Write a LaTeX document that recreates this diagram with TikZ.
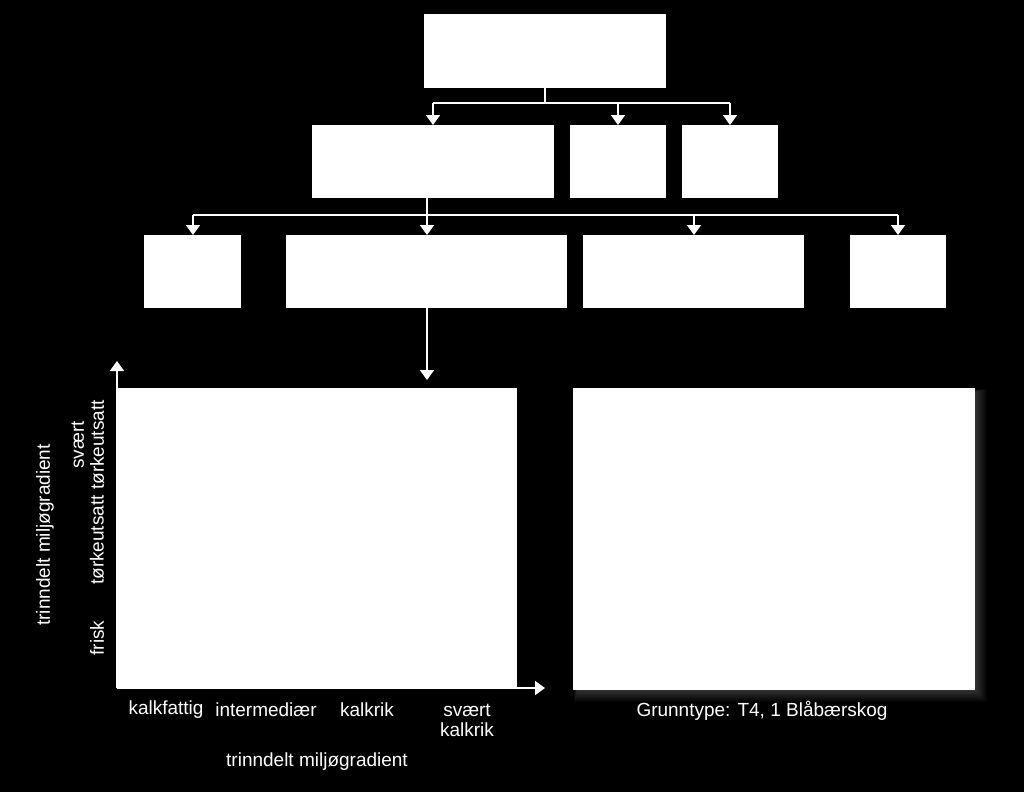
\documentclass[tikz,border=0pt]{standalone}
\usepackage{fontspec}
\setmainfont{Liberation Sans}
\usetikzlibrary{arrows.meta}
\begin{document}
\begin{tikzpicture}[x=1pt,y=-1pt,
  box/.style={fill=white,draw=none},
  conn/.style={draw=white,line width=1.8pt,-{Triangle[width=14pt,length=10pt]}},
  plain/.style={draw=white,line width=1.8pt},
  lbl/.style={text=white,font=\fontsize{19}{20}\selectfont,inner sep=0pt,align=center}]
\fill[black] (0,0) rectangle (1024,792);
\useasboundingbox (0,0) rectangle (1024,792);
% boxes
\path[box] (424,14) rectangle (666,88);
\coordinate (topb) at (545,88);
\path[box] (312,125) rectangle (554,198);
\path[box] (570,125) rectangle (666,198);
\path[box] (682,125) rectangle (778,198);
\coordinate (a) at (433,125); \coordinate (b) at (618,125); \coordinate (c) at (730,125);
\coordinate (ab) at (427,198);
\path[box] (144,235) rectangle (241,308);
\path[box] (286,235) rectangle (567,308);
\path[box] (583,235) rectangle (804,308);
\path[box] (850,235) rectangle (946,308);
\coordinate (d) at (193,235); \coordinate (e) at (427,235); \coordinate (f) at (694,235); \coordinate (g) at (898,235);
\coordinate (eb) at (427,308);
% right box with glow
\foreach \i in {1,...,12}{
  \fill[white,opacity=0.02] (573-\i*0.25+4,388-\i*0.25+4) rectangle (975+\i,690+\i);
}
\path[box] (573,388) rectangle (975,690);
% plot box
\path[box] (117,388) rectangle (517,688);
\coordinate (pt) at (427,380);
% connectors
\coordinate (j1) at (545,103);
\draw[plain] (topb) -- (j1);
\draw[plain] (a|-j1) -- (c|-j1);
\draw[conn] (a|-j1) -- (a);
\draw[conn] (b|-j1) -- (b);
\draw[conn] (c|-j1) -- (c);
\coordinate (j2) at (427,215);
\draw[plain] (ab) -- (j2);
\draw[plain] (d|-j2) -- (g|-j2);
\draw[conn] (d|-j2) -- (d);
\draw[conn] (e|-j2) -- (e);
\draw[conn] (f|-j2) -- (f);
\draw[conn] (g|-j2) -- (g);
\draw[conn] (eb) -- (pt);
% axes
\coordinate (o) at (117,688);
\coordinate (ytip) at (117,361);
\coordinate (xtip) at (545,688);
\draw[conn] (o) -- (ytip);
\draw[conn] (o) -- (xtip);
% labels
\node[lbl] (xl1) at (166,710) {kalkfattig};
\node[lbl] (xl2) at (266,710) {intermediær};
\node[lbl] (xl3) at (367,710) {kalkrik};
\node[lbl] (xl4) at (467,720) {svært\\kalkrik};
\node[lbl] (xt) at (317,762) {trinndelt miljøgradient};
\node[lbl,rotate=90] (yl1) at (97,638) {frisk};
\node[lbl,rotate=90] (yl2) at (97,540) {tørkeutsatt};
\node[lbl,rotate=90] (yl3) at (88,445) {svært\\tørkeutsatt};
\node[lbl,rotate=90] (yt) at (45,535) {trinndelt miljøgradient};
\node[lbl] (gt) at (762,711) {Grunntype: T4, 1 Blåbærskog};
\end{tikzpicture}
\end{document}
